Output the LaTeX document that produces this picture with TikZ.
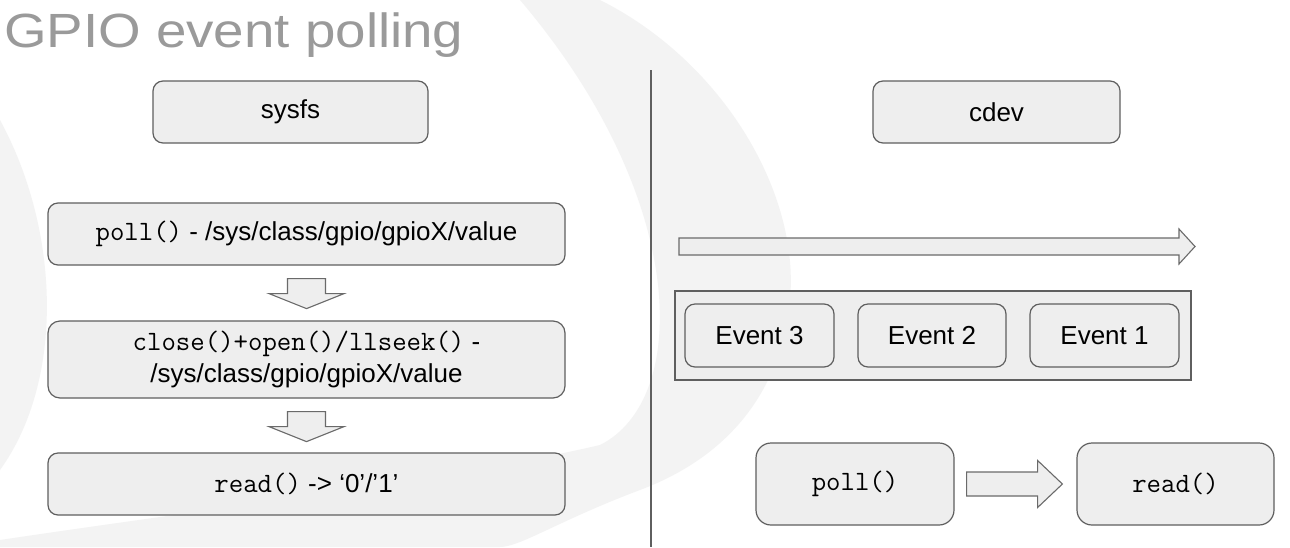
\documentclass[tikz,border=0pt]{standalone}
\usepackage{fontspec}
\setmainfont{Liberation Sans}
\definecolor{boxfill}{HTML}{EEEEEE}
\definecolor{boxline}{HTML}{5F5F5F}
\definecolor{arrowline}{HTML}{6A6A6A}
\definecolor{titlegray}{HTML}{9A9A9A}
\definecolor{swirl}{HTML}{F3F3F3}
\newcommand{\cf}[1]{{\fontsize{28}{32}\ttfamily #1}}
\newcommand{\dnarrow}[1]{%
  \draw[blockarrow] ([shift={(-19,13)}]#1.south) -- ([shift={(19,13)}]#1.south)
    -- ([shift={(19,28)}]#1.south) -- ([shift={(37.5,28)}]#1.south)
    -- ([shift={(0,43)}]#1.south) -- ([shift={(-37.5,28)}]#1.south)
    -- ([shift={(-19,28)}]#1.south) -- cycle;}
\begin{document}
\begin{tikzpicture}[x=1pt,y=-1pt,
  box/.style={draw=boxline, fill=boxfill, line width=1.2pt, rounded corners=10pt,
    inner sep=0pt, align=center, font=\fontsize{26}{32}\selectfont, text=black},
  blockarrow/.style={draw=arrowline, fill=boxfill, line width=1.1pt, line join=miter}]
% background
\fill[white] (0,0) rectangle (1290,547);
\useasboundingbox (0,0) rectangle (1290,547);
\fill[swirl] (600,0) .. controls (720,60) and (800,190) .. (790,300)
  .. controls (780,400) and (720,460) .. (640,490)
  .. controls (560,520) and (520,547) .. (500,547) -- (0,547) -- (0,540)
  .. controls (200,510) and (450,480) .. (600,445)
  .. controls (690,400) and (690,200) .. (520,0) -- cycle;
\fill[swirl] (0,120) .. controls (60,230) and (65,380) .. (0,470) -- cycle;
% title
\node[anchor=base west, inner sep=0pt, text=titlegray, font=\fontsize{48}{56}\selectfont]
  (title) at (4,47) {\scalebox{1.14}[1]{GPIO event polling}};
% divider
\draw[boxline, line width=1.2pt] (651,70) -- (651,547);
% left column
\node[box, minimum width=275pt, minimum height=62pt] (sysfs) at (290.5,112) {sysfs};
\node[box, minimum width=517pt, minimum height=62pt] (poll) at (306.5,234)
  {\cf{poll()} - /sys/class/gpio/gpioX/value};
\node[box, rounded corners=12pt, minimum width=517pt, minimum height=77pt] (close) at (306.5,359.5)
  {\cf{close()+open()/llseek()} -\\/sys/class/gpio/gpioX/value};
\node[box, minimum width=517pt, minimum height=62pt] (read) at (306.5,484)
  {\cf{read()} -> ‘0’/’1’};
\dnarrow{poll}
\dnarrow{close}
% right column
\node[box, minimum width=247pt, minimum height=62pt] (cdev) at (996.5,112) {cdev};
\draw[blockarrow] (679,238) -- (1179,238) -- (1179,229) -- (1195,246.5)
  -- (1179,264) -- (1179,255) -- (679,255) -- cycle;
\node[draw=boxline, fill=boxfill, line width=1.5pt, minimum width=516pt,
  minimum height=89pt, inner sep=0pt] (queue) at (933,335.5) {};
\node[box, minimum width=149pt, minimum height=63pt] (ev3) at (759.5,335.5) {Event 3};
\node[box, minimum width=148pt, minimum height=63pt] (ev2) at (932,335.5) {Event 2};
\node[box, minimum width=149pt, minimum height=63pt] (ev1) at (1104.5,335.5) {Event 1};
\node[box, rounded corners=15pt, minimum width=198pt, minimum height=82pt] (p2) at (855,484) {\cf{poll()}};
\node[box, rounded corners=15pt, minimum width=197pt, minimum height=82pt] (r2) at (1175.5,484) {\cf{read()}};
\draw[blockarrow] ([shift={(12,-12)}]p2.east) -- ([shift={(83,-12)}]p2.east)
  -- ([shift={(83,-23.5)}]p2.east) -- ([shift={(-14,0)}]r2.west)
  -- ([shift={(83,23.5)}]p2.east) -- ([shift={(83,12)}]p2.east)
  -- ([shift={(12,12)}]p2.east) -- cycle;
\end{tikzpicture}
\end{document}
